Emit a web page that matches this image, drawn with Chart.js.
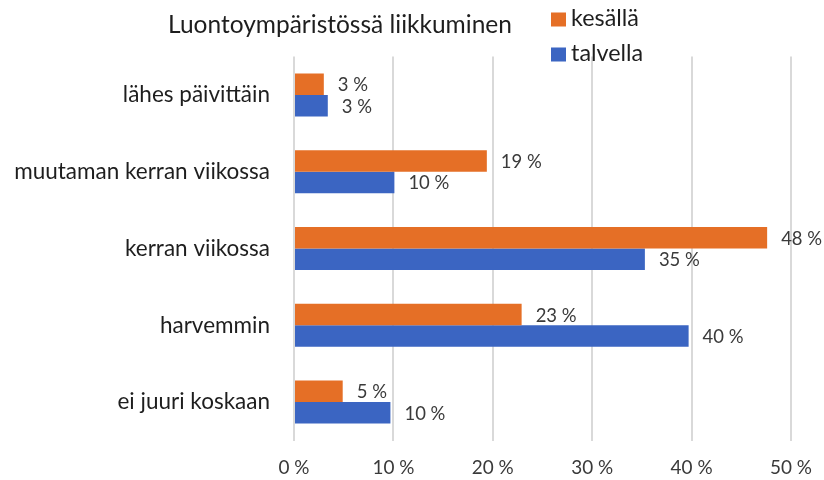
<!DOCTYPE html>
<html>
<head>
<meta charset="utf-8">
<script src="https://cdn.jsdelivr.net/npm/chart.js@4/dist/chart.umd.min.js"></script>
<style>
html,body{margin:0;padding:0;background:#fff;}
#wrap{position:relative;width:824px;height:480px;}
</style>
</head>
<body>
<div id="wrap"><canvas id="c" width="824" height="480"></canvas></div>
<script>
// ---- data ----
const chartTitle = "Luontoympäristössä liikkuminen";
const categories = ["lähes päivittäin", "muutaman kerran viikossa", "kerran viikossa", "harvemmin", "ei juuri koskaan"];
const seriesNames = ["kesällä", "talvella"];
const kesalla = [3.0, 19.4, 47.6, 22.9, 4.9];
const talvella = [3.4, 10.1, 35.3, 39.7, 9.7];
const xTicks = [0, 10, 20, 30, 40, 50];

// ---- style ----
const FAMILY = "Lato, 'Open Sans', sans-serif";
const COLORS = ["#E56F26", "#3B65C2"];
const mctx = document.createElement('canvas').getContext('2d');
function fit(text, target) {
  mctx.font = "100px " + FAMILY;
  return 100 * target / mctx.measureText(text).width;
}
const catSize = fit("muutaman kerran viikossa", 256);
const titleSize = fit(chartTitle, 344);
const tickSize = fit("10 %", 42);
const dlSize = fit("35 %", 41);
const legSize = fit("kesällä", 68);

const fmt = v => Math.round(v) + " %";

const overlay = {
  id: 'overlay',
  afterDatasetsDraw(chart) {
    const ctx = chart.ctx;
    ctx.save();
    ctx.font = dlSize + "px " + FAMILY;
    ctx.fillStyle = "#3a3a3a";
    ctx.textAlign = "left";
    ctx.textBaseline = "middle";
    chart.data.datasets.forEach((ds, di) => {
      const meta = chart.getDatasetMeta(di);
      meta.data.forEach((el, i) => {
        ctx.fillText(fmt(ds.data[i]), el.x + 14, el.y + 1);
      });
    });
    ctx.restore();
  },
  afterDraw(chart) {
    const ctx = chart.ctx;
    ctx.save();
    ctx.fillStyle = "#1e1e1e";
    ctx.font = titleSize + "px " + FAMILY;
    ctx.textAlign = "left";
    ctx.textBaseline = "alphabetic";
    ctx.fillText(chartTitle, 168, 33);
    ctx.font = legSize + "px " + FAMILY;
    const baselines = [26, 61];
    chart.data.datasets.forEach((ds, di) => {
      ctx.fillStyle = ds.backgroundColor;
      ctx.fillRect(551, baselines[di] - 13.5, 15, 14);
      ctx.fillStyle = "#1e1e1e";
      ctx.fillText(ds.label, 571, baselines[di]);
    });
    ctx.restore();
  }
};

new Chart(document.getElementById('c'), {
  type: 'bar',
  data: {
    labels: categories,
    datasets: [
      { label: seriesNames[0], data: kesalla, backgroundColor: COLORS[0] },
      { label: seriesNames[1], data: talvella, backgroundColor: COLORS[1] }
    ]
  },
  options: {
    indexAxis: 'y',
    responsive: false,
    animation: false,
    devicePixelRatio: 1,
    layout: { padding: { top: 56.5, right: 33, bottom: 0, left: 0 } },
    datasets: { bar: { categoryPercentage: 0.56, barPercentage: 1.0 } },
    plugins: { legend: { display: false }, title: { display: false }, tooltip: { enabled: false } },
    scales: {
      x: {
        min: 0, max: 50,
        afterBuildTicks(scale) { scale.ticks = xTicks.map(v => ({ value: v })); },
        afterFit(scale) { scale.height = 39.5; scale.paddingLeft = 0; scale.paddingRight = 0; },
        grid: { color: "#D9D9D9", lineWidth: 2, drawTicks: false },
        border: { display: false },
        ticks: {
          callback: v => v + " %",
          font: { family: FAMILY, size: tickSize, lineHeight: 1 },
          color: "#3a3a3a",
          padding: 18,
          maxRotation: 0
        }
      },
      y: {
        grid: { display: false, drawTicks: false },
        border: { display: false },
        afterFit(scale) { scale.width = 294; scale.paddingTop = 0; scale.paddingBottom = 0; },
        ticks: {
          font: { family: FAMILY, size: catSize },
          color: "#1e1e1e",
          padding: 24
        }
      }
    }
  },
  plugins: [overlay]
});
</script>
</body>
</html>
